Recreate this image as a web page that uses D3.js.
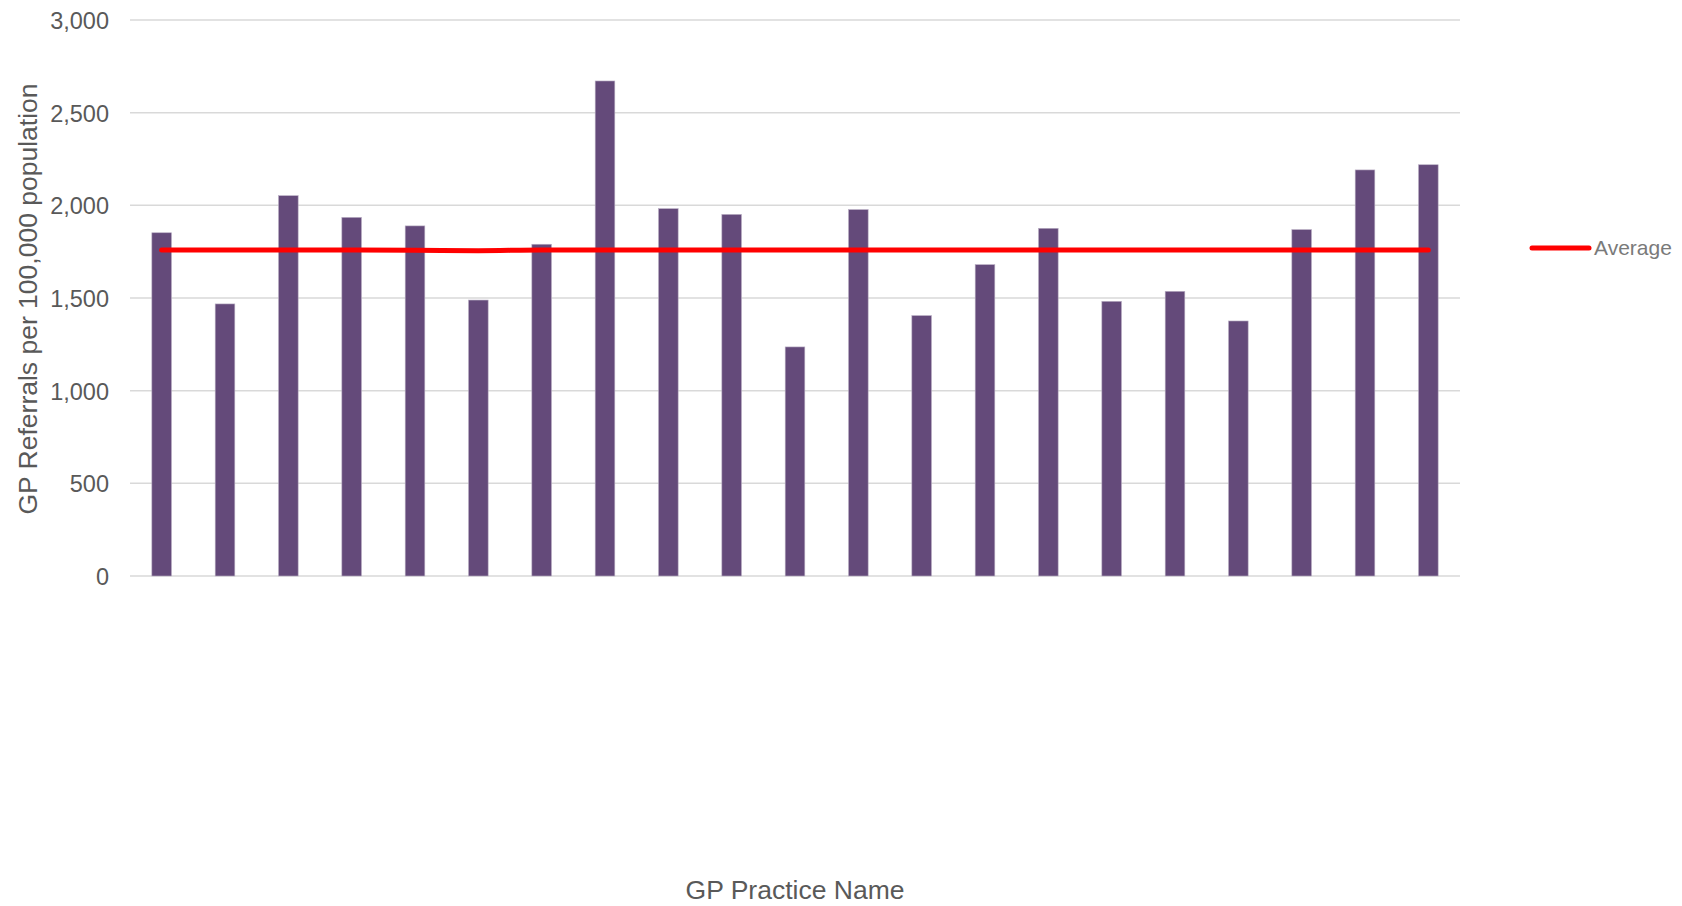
<!DOCTYPE html>
<html>
<head>
<meta charset="utf-8">
<script src="https://cdn.jsdelivr.net/npm/d3@7"></script>
<style>
  body { margin: 0; background: #fff; }
  text { font-family: "Liberation Sans", Arial, sans-serif; }
</style>
</head>
<body>
<div id="chart"></div>
<script>
// practice names are not shown on the axis, so use index numbers
const practices = d3.range(1, 22).map(d => "Practice " + d);
const referrals = [1852, 1468, 2052, 1935, 1889, 1489, 1790, 2671, 1982, 1951, 1236,
                   1977, 1405, 1680, 1876, 1482, 1536, 1376, 1869, 2191, 2219];
const average = [1759, 1759, 1759, 1759, 1758, 1755, 1759, 1759, 1759, 1759, 1759,
                 1759, 1759, 1759, 1759, 1759, 1759, 1759, 1759, 1759, 1759];
const yTicks = [0, 500, 1000, 1500, 2000, 2500, 3000];

const width = 1682, height = 906;
const margin = {top: 20, right: 222, bottom: 330, left: 130};

const svg = d3.select("#chart")
    .append("svg")
    .attr("width", width)
    .attr("height", height);

const x = d3.scaleBand()
    .domain(practices)
    .range([margin.left, width - margin.right])
    .paddingInner(0.69)
    .paddingOuter(0.345);

const y = d3.scaleLinear()
    .domain([0, 3000])
    .range([height - margin.bottom, margin.top]);

// gridlines
svg.append("g")
    .selectAll("line")
    .data(yTicks)
    .join("line")
    .attr("x1", margin.left)
    .attr("x2", width - margin.right)
    .attr("y1", d => y(d))
    .attr("y2", d => y(d))
    .attr("stroke", "#d9d9d9")
    .attr("stroke-width", 1.5);

// y axis labels
const yAxis = svg.append("g")
    .attr("transform", "translate(" + (margin.left - 21) + ",0)")
    .call(d3.axisLeft(y).tickValues(yTicks).tickFormat(d3.format(",")).tickSize(0).tickPadding(0));
yAxis.select(".domain").remove();
yAxis.selectAll("text")
    .attr("fill", "#595959")
    .style("font-size", "23.5px")
    .attr("dy", "0.36em");

// bars
svg.append("g")
    .selectAll("rect")
    .data(referrals)
    .join("rect")
    .attr("x", (d, i) => x(practices[i]))
    .attr("width", x.bandwidth())
    .attr("y", d => y(d))
    .attr("height", d => y(0) - y(d))
    .attr("fill", "#644a7a")
    .attr("stroke", "#b9aec4")
    .attr("stroke-width", 0.6);

// average line
const line = d3.line()
    .x((d, i) => x(practices[i]) + x.bandwidth() / 2)
    .y(d => y(d))
    .curve(d3.curveMonotoneX);

svg.append("path")
    .datum(average)
    .attr("d", line)
    .attr("fill", "none")
    .attr("stroke", "#ff0000")
    .attr("stroke-width", 5)
    .attr("stroke-linecap", "round");

// legend
svg.append("line")
    .attr("x1", 1532)
    .attr("x2", 1589)
    .attr("y1", 248)
    .attr("y2", 248)
    .attr("stroke", "#ff0000")
    .attr("stroke-width", 5)
    .attr("stroke-linecap", "round");

svg.append("text")
    .attr("x", 1594)
    .attr("y", 255)
    .attr("fill", "#7a7a7a")
    .style("font-size", "21px")
    .text("Average");

// axis titles
svg.append("text")
    .attr("transform", "translate(37,299) rotate(-90)")
    .attr("text-anchor", "middle")
    .attr("fill", "#595959")
    .style("font-size", "26.5px")
    .text("GP Referrals per 100,000 population");

svg.append("text")
    .attr("x", 795)
    .attr("y", 899)
    .attr("text-anchor", "middle")
    .attr("fill", "#595959")
    .style("font-size", "26.5px")
    .text("GP Practice Name");
</script>
</body>
</html>
